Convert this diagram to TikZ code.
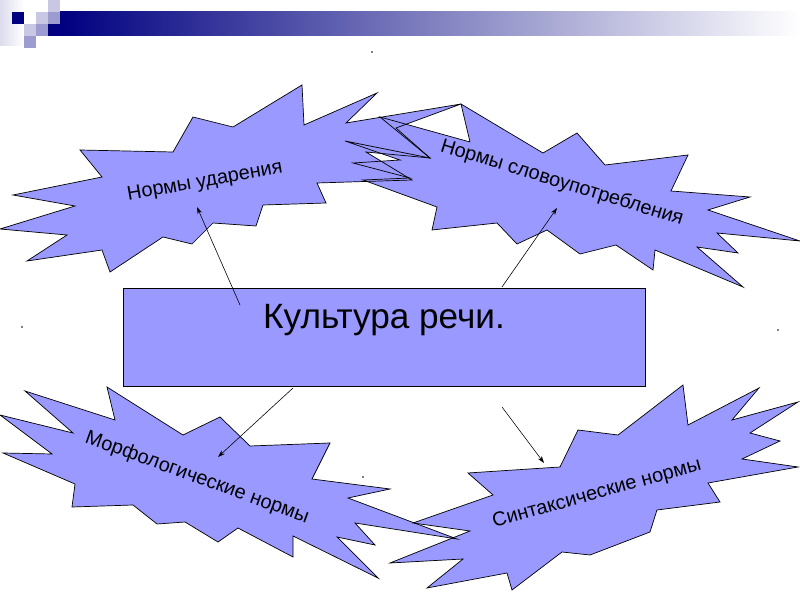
\documentclass[tikz,border=0pt]{standalone}
\usepackage{fontspec}
\setmainfont{Liberation Sans}
\usetikzlibrary{arrows.meta}
\definecolor{burstblue}{HTML}{9999FF}
\definecolor{navy}{HTML}{000080}
\definecolor{lightsq}{HTML}{C8C8E4}
\definecolor{midsq}{HTML}{9C9CD0}
\definecolor{palesq}{HTML}{DCDCEE}

% outlines of the four bursts (pixel grid, y downwards)
\def\burstud{(13,195) -- (102,177) -- (80,150) -- (173,152) -- (193,117) -- (233,127)
  -- (302,85) -- (304,125) -- (377,93) -- (346,123) -- (461,104) -- (396,128)
  -- (430,158) -- (366,152) -- (412,180) -- (317,183) -- (326,203) -- (263,205)
  -- (256,226) -- (213,223) -- (192,244) -- (163,237) -- (110,272) -- (102,250)
  -- (27,261) -- (67,235) -- (0,229) -- (75,206) -- cycle}
\def\burstslovo{(461,104) -- (543,153) -- (577,133) -- (605,165) -- (688,155)
  -- (671,191) -- (750,197) -- (708,210) -- (800,241) -- (717,233) -- (738,253)
  -- (697,247) -- (743,287) -- (655,250) -- (653,270) -- (616,245) -- (580,254)
  -- (547,230) -- (517,244) -- (497,223) -- (432,230) -- (437,207) -- (363,180)
  -- (410,178) -- (353,163) -- (400,160) -- (345,141) -- (430,158) -- (380,117)
  -- (470,142) -- cycle}
\def\burstmorf{(25,391) -- (115,420) -- (107,387) -- (183,435) -- (220,417)
  -- (250,446) -- (330,443) -- (312,479) -- (390,489) -- (348,498) -- (457,539)
  -- (355,523) -- (375,545) -- (337,537) -- (378,578) -- (293,536) -- (293,557)
  -- (238,528) -- (218,542) -- (185,522) -- (157,524) -- (133,505) -- (72,507)
  -- (75,484) -- (3,453) -- (52,454) -- (0,415) -- (73,433) -- cycle}
\def\burstsint{(468,473) -- (560,467) -- (578,430) -- (618,435) -- (683,385)
  -- (688,425) -- (759,388) -- (732,420) -- (798,402) -- (750,433) -- (780,441)
  -- (742,459) -- (798,467) -- (708,483) -- (720,502) -- (657,510) -- (650,532)
  -- (590,555) -- (562,552) -- (512,590) -- (507,573) -- (427,588) -- (463,559)
  -- (390,563) -- (470,531) -- (413,523) -- (493,495) -- cycle}

\begin{document}
\begin{tikzpicture}[x=0.03cm,y=-0.03cm,>={Stealth[length=6pt,width=4pt]},
                    semithick]
  \tikzstyle{every node}=[font=\fontsize{17}{20}\selectfont,inner sep=0pt]
  \tikzstyle{burst}=[draw=black,line join=miter]
  \tikzstyle{link}=[->,line width=0.5pt]

  \useasboundingbox (0,0) rectangle (800,600);
  \fill[white] (0,0) rectangle (800,600);

  % header band
  \shade[left color=palesq,right color=white] (0,0) rectangle (24,46);
  \shade[left color=navy,right color=white] (60,12) rectangle (800,36);
  \fill[navy] (12,12) rectangle (24,24);
  \fill[lightsq] (48,0) rectangle (60,12);
  \fill[lightsq] (36,12) rectangle (48,24);
  \fill[midsq] (48,12) rectangle (60,24);
  \fill[lightsq] (24,24) rectangle (36,36);
  \fill[midsq] (36,24) rectangle (48,36);
  \fill[navy] (48,24) rectangle (60,36);
  \fill[midsq] (24,36) rectangle (36,48);

  % bursts: fills first, then all outlines
  \fill[burstblue] \burstud;
  \fill[burstblue] \burstslovo;
  \fill[burstblue] \burstmorf;
  \fill[burstblue] \burstsint;
  \draw[burst] \burstud;
  \draw[burst] \burstslovo;
  \draw[burst] \burstmorf;
  \draw[burst] \burstsint;

  % centre box
  \node[draw=black,fill=burstblue,minimum width=15.66cm,minimum height=2.94cm]
    (kult) at (384,337) {};
  \node[font=\fontsize{30}{35}\selectfont] (kulttext) at (384,320) {Культура речи.};

  \node[rotate=10] (ud) at (205,182) {Нормы ударения};
  \node[rotate=-17] (slovo) at (562,183) {Нормы словоупотребления};
  \node[rotate=-20] (morf) at (197,478) {Морфологические нормы};
  \node[rotate=15.5] (sint) at (597,494) {Синтаксические нормы};

  % arrow ends
  \coordinate (ud-from) at (240,305);
  \coordinate (ud-to) at (197,207);
  \coordinate (slovo-from) at (502,287);
  \coordinate (slovo-to) at (557,208);
  \coordinate (morf-from) at (293,388);
  \coordinate (morf-to) at (218,457);
  \coordinate (sint-from) at (502,407);
  \coordinate (sint-to) at (544,463);

  \draw[link] (ud-from) -- (ud-to);
  \draw[link] (slovo-from) -- (slovo-to);
  \draw[link] (morf-from) -- (morf-to);
  \draw[link] (sint-from) -- (sint-to);

  % stray specks
  \fill (372,52) circle (0.8);
  \fill (22,327) circle (0.8);
  \fill (778,330) circle (0.8);
  \fill (363,477) circle (0.8);
\end{tikzpicture}
\end{document}
